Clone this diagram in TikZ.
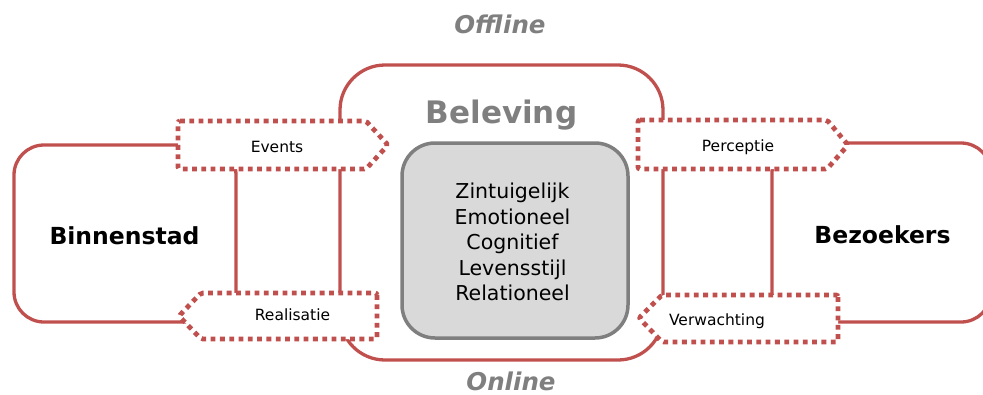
\documentclass[tikz,border=0pt]{standalone}
\usepackage{fontspec}
\setmainfont{DejaVu Sans}
\definecolor{cred}{RGB}{192,80,77}
\definecolor{cgray}{RGB}{127,127,127}
\definecolor{cfill}{RGB}{217,217,217}
\begin{document}
\begin{tikzpicture}[x=1pt,y=-1pt,
  redline/.style={draw=cred,line width=3.3pt},
  dotbox/.style={draw=cred,line width=4.8pt,dash pattern=on 4.8pt off 4.5pt,fill=white,rounded corners=2pt},
  lbl/.style={font=\fontsize{15.5}{18}\selectfont,inner sep=0pt,anchor=base},
  big/.style={font=\fontsize{23.5}{26}\bfseries\selectfont,inner sep=0pt,anchor=base},
  head/.style={font=\fontsize{24.5}{28}\bfseries\itshape\selectfont,text=cgray,inner sep=0pt,anchor=base}]
\useasboundingbox (0,0) rectangle (983,394);
% boxes
\draw[redline,rounded corners=30pt] (14,145) rectangle (236,322);
\draw[redline,rounded corners=30pt] (772,143) rectangle (991,322);
\draw[redline,rounded corners=45pt] (340,65) rectangle (663,360);
% dotted signal shapes
\draw[dotbox] (178,121) -- (366,121) -- (388,145) -- (366,169) -- (178,169) -- cycle;
\draw[dotbox] (377,293) -- (377,339) -- (201,339) -- (179,316) -- (201,293) -- cycle;
\draw[dotbox] (638,120) -- (827,120) -- (848,145) -- (827,169) -- (638,169) -- cycle;
\draw[dotbox] (838,295) -- (838,342) -- (662,342) -- (639,318) -- (662,295) -- cycle;
% central box
\draw[draw=cgray,fill=cfill,line width=3.5pt,rounded corners=33pt] (402,143) rectangle (628,338);
% texts
\node[head] (offline) at (500,33) {Offline};
\node[head] (online) at (511,390) {Online};
\node[font=\fontsize{31}{34}\bfseries\selectfont,text=cgray,inner sep=0pt,anchor=base] (beleving) at (501.5,123) {Beleving};
\node[big] (binnenstad) at (124.5,244) {Binnenstad};
\node[big] (bezoekers) at (882.5,243) {Bezoekers};
\node[lbl] (events) at (277,152) {Events};
\node[lbl] (realisatie) at (292.5,320) {Realisatie};
\node[lbl] (perceptie) at (738,151) {Perceptie};
\node[lbl] (verwachting) at (717,325) {Verwachting};
\node[font=\fontsize{20.5}{25.5}\selectfont,align=center,inner sep=0pt] (list) at (512.5,242)
  {Zintuigelijk\\Emotioneel\\Cognitief\\Levensstijl\\Relationeel};
\end{tikzpicture}
\end{document}
